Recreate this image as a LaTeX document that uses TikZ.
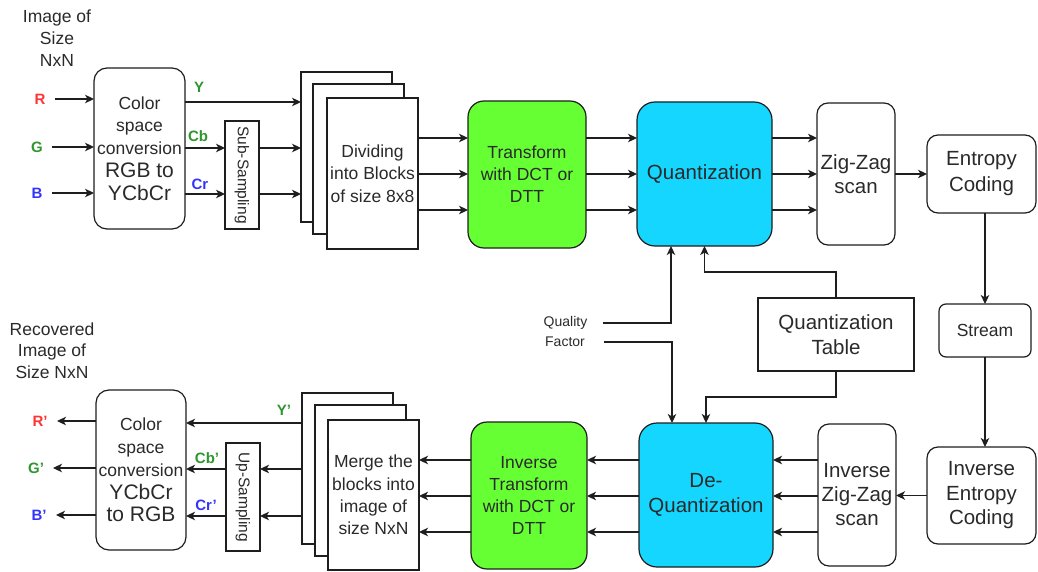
\documentclass[tikz,border=0pt]{standalone}
\usepackage{fontspec}
\setmainfont{Liberation Sans}
\usetikzlibrary{arrows.meta,calc}
\definecolor{ink}{HTML}{1E1E1E}
\definecolor{txt}{HTML}{2A2A2A}
\definecolor{grn}{HTML}{66FF33}
\definecolor{cyn}{HTML}{14D6FF}
\definecolor{lblr}{HTML}{FF3333}
\definecolor{lblg}{HTML}{2E962E}
\definecolor{lblb}{HTML}{3333FF}
\begin{document}
\begin{tikzpicture}[x=1pt,y=-1pt,
  box/.style={draw=ink, line width=1.2pt, fill=white, inner sep=0pt, outer sep=0pt,
              align=center, text=txt},
  rbox/.style={box, rounded corners=#1},
  fmid/.style={font=\fontsize{17.5}{22.5}\selectfont},
  fbig/.style={font=\fontsize{20.5}{24.5}\selectfont},
  fsub/.style={font=\fontsize{15.5}{18}\selectfont},
  fsmall/.style={font=\fontsize{14}{20}\selectfont, text=txt, inner sep=0pt},
  plain/.style={align=center, text=txt, inner sep=0pt},
  lbl/.style={font=\bfseries\fontsize{15}{18}\selectfont, inner sep=0pt},
  arr/.style={draw=ink, line width=1.2pt, -{Stealth[length=9pt,width=8.5pt,inset=2.5pt]}},
  wire/.style={draw=ink, line width=1.2pt}
]
\useasboundingbox (0,0) rectangle (1038,572);

% ---------------- encoder ----------------
\node[plain, fmid, font=\fontsize{17.5}{22}\selectfont] (src) at (57,38) {Image of\\Size\\NxN};

\node[rbox=13pt, minimum width=91pt, minimum height=161pt, fmid,
      font=\fontsize{17.5}{22.8}\selectfont] (rgb) at (139.5,148.5)
  {Color\\space\\conversion\\{\fontsize{21}{22.8}\selectfont RGB to}\\{\fontsize{21}{22.8}\selectfont YCbCr}};

\node[lbl, text=lblr] (R) at (40,99) {R};
\node[lbl, text=lblg] (G) at (37,147) {G};
\node[lbl, text=lblb] (B) at (37,193) {B};

\node[box, minimum width=34pt, minimum height=108pt] (sub) at (242,175) {};
\node[fsub, text=txt, rotate=-90] at (sub.center) {Sub-Sampling};

\node[lbl, text=lblg] (Y) at (199,87) {Y};
\node[lbl, text=lblg] (Cb) at (198,136) {Cb};
\node[lbl, text=lblb] (Cr) at (200,184) {Cr};

\node[box, minimum width=91pt, minimum height=150pt] (d1) at (346.5,147) {};
\node[box, minimum width=91pt, minimum height=150pt] (d2) at (358.5,159) {};
\node[box, minimum width=91pt, minimum height=151pt, fmid] (d3) at (372.5,173.5)
  {Dividing\\into Blocks\\of size 8x8};

\node[rbox=16pt, fill=grn, minimum width=118pt, minimum height=147pt, fmid,
      font=\fontsize{17.5}{22}\selectfont] (tr) at (527,174.5)
  {Transform\\with DCT or\\DTT};

\node[rbox=18pt, fill=cyn, minimum width=135pt, minimum height=144pt, fbig] (q) at (704.5,174)
  {Quantization};

\node[rbox=11pt, minimum width=78pt, minimum height=142pt, fbig] (zz) at (856,174)
  {Zig-Zag\\scan};

\node[rbox=11pt, minimum width=109pt, minimum height=78pt, fbig,
      font=\fontsize{20.5}{26}\selectfont] (ec) at (981.5,174)
  {Entropy\\Coding};

\node[rbox=7pt, minimum width=92pt, minimum height=53pt, fmid] (st) at (985,330.5) {Stream};

% ---------------- shared inputs ----------------
\node[box, minimum width=156pt, minimum height=73pt, fbig,
      font=\fontsize{20.5}{25}\selectfont] (qt) at (836,334.5)
  {Quantization\\Table};

\node[fsmall] (qfa) at (565.5,323) {Quality};
\node[fsmall] (qfb) at (565,342) {Factor};

% ---------------- decoder ----------------
\node[rbox=11pt, minimum width=109pt, minimum height=97pt, fbig] (iec) at (981.5,495.5)
  {Inverse\\Entropy\\Coding};

\node[rbox=11pt, minimum width=78pt, minimum height=142pt, fbig,
      font=\fontsize{20.5}{24}\selectfont] (izz) at (857,495)
  {Inverse\\Zig-Zag\\scan};

\node[rbox=18pt, fill=cyn, minimum width=134pt, minimum height=144pt, fbig,
      font=\fontsize{20.5}{25}\selectfont] (dq) at (706,495)
  {De-\\Quantization};

\node[rbox=16pt, fill=grn, minimum width=116pt, minimum height=147pt, fmid,
      font=\fontsize{17.5}{22}\selectfont] (itr) at (529,495.5)
  {Inverse\\Transform\\with DCT or\\DTT};

\node[box, minimum width=91pt, minimum height=151pt] (m1) at (347.5,468.5) {};
\node[box, minimum width=91pt, minimum height=151pt] (m2) at (360.5,480.5) {};
\node[box, minimum width=91pt, minimum height=150pt, fmid,
      font=\fontsize{17.5}{22.3}\selectfont] (m3) at (373.5,495)
  {Merge the\\blocks into\\image of\\size NxN};

\node[box, minimum width=34pt, minimum height=108pt] (up) at (243,497) {};
\node[fsub, text=txt, rotate=-90] at (up.center) {Up-Sampling};

\node[rbox=13pt, minimum width=90pt, minimum height=160pt, fmid,
      font=\fontsize{17.5}{22.8}\selectfont] (irgb) at (141,470)
  {Color\\space\\conversion\\{\fontsize{21}{22.8}\selectfont YCbCr}\\{\fontsize{21}{22.8}\selectfont to RGB}};

\node[plain, font=\fontsize{17.5}{21.5}\selectfont] (dst) at (52,350.5)
  {Recovered\\Image of\\Size NxN};

\node[lbl, text=lblr] (Rp) at (40,421) {R'};
\node[lbl, text=lblg] (Gp) at (36,468) {G'};
\node[lbl, text=lblb] (Bp) at (39,515) {B'};

\node[lbl, text=lblg] (Yp) at (284,410) {Y'};
\node[lbl, text=lblg] (Cbp) at (207,458) {Cb'};
\node[lbl, text=lblb] (Crp) at (206,505) {Cr'};

% ---------------- encoder connectors ----------------
\foreach \c in {R,G,B}
  \draw[arr, shorten <=15pt] (\c.center) -- (rgb.west |- \c.center);

\draw[arr] (rgb.east |- 0,102) -- (d1.west |- 0,102);
\draw[arr] (rgb.east |- 0,148) -- (sub.west |- 0,148);
\draw[arr] (rgb.east |- 0,194) -- (sub.west |- 0,194);
\draw[arr] (sub.east |- 0,148) -- (d1.west |- 0,148);
\draw[arr] (sub.east |- 0,194) -- (d1.west |- 0,194);

\foreach \y in {138,174,210} {
  \draw[arr] (d3.east |- 0,\y) -- (tr.west |- 0,\y);
  \draw[arr] (tr.east |- 0,\y) -- (q.west |- 0,\y);
  \draw[arr] (q.east |- 0,\y) -- (zz.west |- 0,\y);
}
\draw[arr] (zz.east) -- (ec.west |- zz.east);
\draw[arr] (st.north |- ec.south) -- (st.north);
\draw[arr] (st.south) -- (st.south |- iec.north);

% ---------------- table and quality factor ----------------
\draw[arr] (qt.north) -- ++(0,-26) -| (q.south);
\draw[arr] (qt.south) -- ++(0,26) -| (dq.north);
\draw[arr] ([xshift=16pt]qfa.east) -| ([xshift=-33.5pt]q.south);
\draw[arr] ([xshift=19pt]qfb.east) -| ([xshift=-34pt]dq.north);

% ---------------- decoder connectors ----------------
\draw[arr] (iec.west) -- (izz.east |- iec.west);
\foreach \y in {460,496,532} {
  \draw[arr] (izz.west |- 0,\y) -- (dq.east |- 0,\y);
  \draw[arr] (dq.west |- 0,\y) -- (itr.east |- 0,\y);
  \draw[arr] (itr.west |- 0,\y) -- (m3.east |- 0,\y);
}
\draw[arr] (m1.west |- 0,423) -- (irgb.east |- 0,423);
\draw[arr] (m1.west |- 0,469) -- (up.east |- 0,469);
\draw[arr] (m1.west |- 0,516) -- (up.east |- 0,516);
\draw[arr] (up.west |- 0,469) -- (irgb.east |- 0,469);
\draw[arr] (up.west |- 0,516) -- (irgb.east |- 0,516);

\foreach \c in {Rp,Gp,Bp}
  \draw[arr, shorten >=17pt] (irgb.west |- \c.center) -- (\c.center);
\end{tikzpicture}
\end{document}
